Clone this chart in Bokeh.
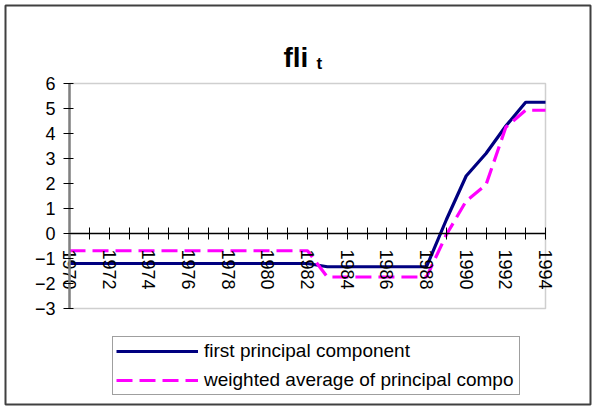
from bokeh.plotting import figure
from bokeh.models import (Range1d, LinearAxis, FixedTicker, Legend, LegendItem,
                          Label, ColumnDataSource, BoxAnnotation)
from bokeh.embed import file_html
from bokeh.resources import INLINE

# ---- data ----
years = [1970, 1971, 1972, 1973, 1974, 1975, 1976, 1977, 1978, 1979, 1980, 1981, 1982,
         1983, 1984, 1985, 1986, 1987, 1988, 1989, 1990, 1991, 1992, 1993, 1994]
first_pc = [-1.2, -1.2, -1.2, -1.2, -1.2, -1.2, -1.2, -1.2, -1.2, -1.2, -1.2, -1.2, -1.2,
            -1.33, -1.33, -1.33, -1.33, -1.33, -1.33, 0.55, 2.3, 3.2, 4.3, 5.25, 5.25]
weighted_avg = [-0.69, -0.69, -0.69, -0.69, -0.69, -0.69, -0.69, -0.69, -0.69, -0.69, -0.69, -0.69, -0.69,
                -1.74, -1.74, -1.74, -1.74, -1.74, -1.74, -0.05, 1.3, 1.95, 4.25, 4.93, 4.93]
label_years = [1970, 1972, 1974, 1976, 1978, 1980, 1982, 1984, 1986, 1988, 1990, 1992, 1994]
tick_labels = ["1970", "1972", "1974", "1976", "1978", "1980", "1982", "1984", "1986",
               "1988", "1990", "1992", "1994"]
minor_years = [1971, 1973, 1975, 1977, 1979, 1981, 1983, 1985, 1987, 1989, 1991, 1993]
y_ticks = [-3, -2, -1, 0, 1, 2, 3, 4, 5, 6]
y_min, y_max = -3, 6
series_names = ["first principal component", "weighted average of principal compo"]
title_main = "fli"
title_sub = "t"

FONT = "Liberation Sans"

# ---- layout geometry (pixels) ----
W, H = 594, 406
FL, FT, FR, FB = 5, 5, 590, 404          # frame (outer chart border)
PL, PT, PR, PB = 69, 83, 545, 308        # plot area inside the chart

xpx = (PR - PL) / (years[-1] - years[0])
ypx = (PB - PT) / (y_max - y_min)
x_range = Range1d(years[0] - (PL - FL) / xpx, years[-1] + (FR - PR) / xpx)
y_range = Range1d(y_min - (FB - PB) / ypx, y_max + (PT - FT) / ypx)

p = figure(width=W, height=H, output_backend="svg", toolbar_location=None,
           x_range=x_range, y_range=y_range,
           x_axis_type=None, y_axis_type=None,
           min_border_left=FL, min_border_top=FT, min_border_right=W - FR,
           min_border_bottom=H - FB,
           background_fill_color="white", border_fill_color="white")
p.grid.visible = False
p.outline_line_color = "#404040"
p.outline_line_width = 2

# plot-area box
p.add_layout(BoxAnnotation(left=years[0], right=years[-1], bottom=y_min, top=y_max,
                           fill_alpha=0, line_color="#606060", line_width=1.5,
                           level="underlay"))

# y axis
ya = LinearAxis(fixed_location=years[0], bounds=(y_min, y_max),
                ticker=FixedTicker(ticks=y_ticks))
ya.axis_line_color = "#808080"
ya.axis_line_width = 2.5
ya.major_tick_in = 4
ya.major_tick_out = 6
ya.major_tick_line_color = "black"
ya.minor_tick_line_color = None
ya.major_label_standoff = 8
ya.major_label_text_font = FONT
ya.major_label_text_font_size = "18px"
ya.major_label_text_color = "black"
p.add_layout(ya, "left")

# x axis crossing at y = 0
xa = LinearAxis(fixed_location=0, bounds=(years[0], years[-1]),
                ticker=FixedTicker(ticks=label_years, minor_ticks=minor_years),
                major_label_overrides={y: t for y, t in zip(label_years, tick_labels)})
xa.axis_line_color = "black"
xa.axis_line_width = 1.5
xa.major_tick_in = 6
xa.major_tick_out = 6
xa.minor_tick_in = 6
xa.minor_tick_out = 6
xa.major_tick_line_color = "black"
xa.minor_tick_line_color = "black"
xa.major_label_orientation = "vertical"
xa.major_label_standoff = 10
xa.major_label_text_font = FONT
xa.major_label_text_font_size = "18px"
xa.major_label_text_color = "black"
p.add_layout(xa, "below")

src = ColumnDataSource(dict(x=years, a=first_pc, b=weighted_avg))
r1 = p.line("x", "a", source=src, line_color="#000080", line_width=3.2)
r2 = p.line("x", "b", source=src, line_color="#FF00FF", line_width=3.2, line_dash="16 7")

legend = Legend(items=[LegendItem(label=series_names[0], renderers=[r1]),
                       LegendItem(label=series_names[1], renderers=[r2])],
                location=(112 - FL, FB - 395), orientation="vertical",
                glyph_width=82, glyph_height=20, label_height=20, label_width=312,
                label_standoff=6, spacing=7, padding=3, margin=0,
                label_text_font=FONT, label_text_font_size="19px",
                label_text_color="black",
                border_line_color="#404040", border_line_width=1.5,
                background_fill_color="white", background_fill_alpha=1.0)
p.add_layout(legend, "center")

p.add_layout(Label(x=283 - FL, y=FB - 57, x_units="screen", y_units="screen", text=title_main,
                   text_font=FONT, text_font_style="bold", text_font_size="28px",
                   text_color="black", text_baseline="alphabetic"))
p.add_layout(Label(x=316 - FL, y=FB - 63, x_units="screen", y_units="screen", text=title_sub,
                   text_font=FONT, text_font_style="bold", text_font_size="17px",
                   text_color="black", text_baseline="alphabetic"))

open("out.html", "w").write(file_html(p, INLINE))
